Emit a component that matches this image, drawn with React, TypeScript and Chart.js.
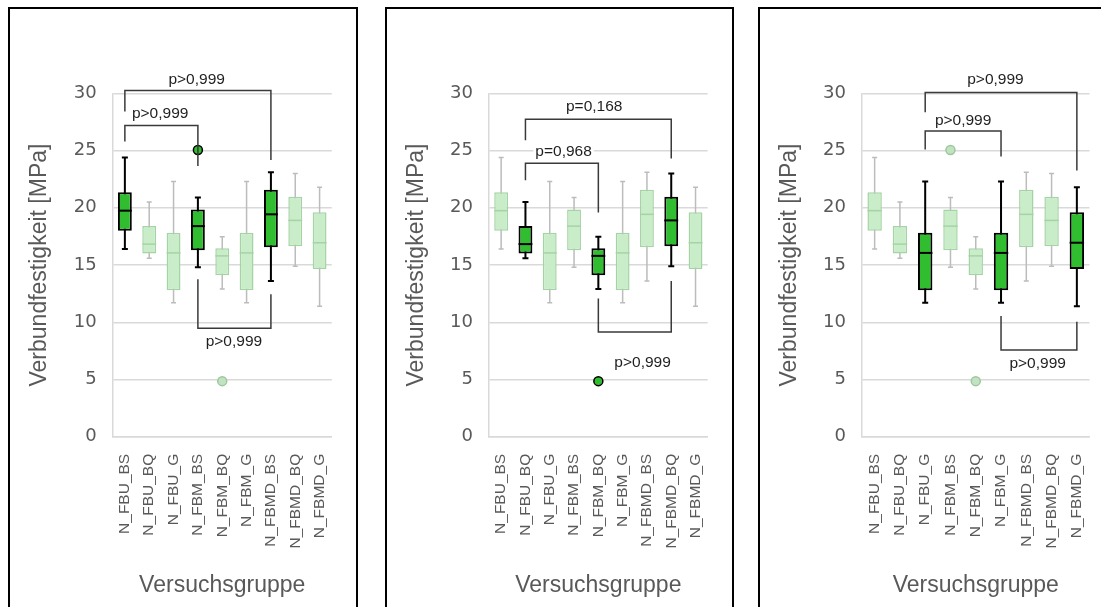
import React, { useEffect, useRef } from 'react';
import { Chart, registerables } from 'chart.js';

Chart.register(...registerables);

// ---------- data ----------
const categories = [
  'N_FBU_BS', 'N_FBU_BQ', 'N_FBU_G',
  'N_FBM_BS', 'N_FBM_BQ', 'N_FBM_G',
  'N_FBMD_BS', 'N_FBMD_BQ', 'N_FBMD_G',
];
const whiskerLow = [16.4, 15.6, 11.7, 14.8, 12.9, 11.7, 13.6, 14.9, 11.4];
const quartile1 = [18.0, 16.0, 12.8, 16.3, 14.1, 12.8, 16.55, 16.65, 14.65];
const medians = [19.75, 16.83, 16.06, 18.4, 15.8, 16.06, 19.43, 18.9, 16.95];
const quartile3 = [21.35, 18.42, 17.83, 19.85, 16.47, 17.83, 21.57, 20.96, 19.62];
const whiskerHigh = [24.4, 20.5, 22.3, 20.9, 17.48, 22.3, 23.1, 23.0, 21.8];
const outliers = [null, null, null, 25.05, 4.86, null, null, null, null];
const yTicks = [0, 5, 10, 15, 20, 25, 30];

const highlightPanel1 = [0, 3, 6];
const highlightPanel2 = [1, 4, 7];
const highlightPanel3 = [2, 5, 8];

// from/to: category index, level: bracket value, fromEnd/toEnd: leg end values,
// lx: label category position, ly: label value
const bracketsPanel1 = [
  { from: 0, to: 6, level: 30.24, fromEnd: 28.4, toEnd: 24.18, text: 'p>0,999', lx: 2.95, ly: 31.2 },
  { from: 0, to: 3, level: 27.18, fromEnd: 25.78, toEnd: 23.65, text: 'p>0,999', lx: 1.45, ly: 28.25 },
  { from: 3, to: 6, level: 9.47, fromEnd: 13.75, toEnd: 12.44, text: 'p>0,999', lx: 4.48, ly: 8.3 },
];
const bracketsPanel2 = [
  { from: 1, to: 7, level: 27.73, fromEnd: 25.9, toEnd: 24.3, text: 'p=0,168', lx: 3.83, ly: 28.8 },
  { from: 1, to: 4, level: 23.9, fromEnd: 22.4, toEnd: 19.6, text: 'p=0,968', lx: 2.57, ly: 24.9 },
  { from: 4, to: 7, level: 9.16, fromEnd: 12.07, toEnd: 13.6, text: 'p>0,999', lx: 5.82, ly: 6.43 },
];
const bracketsPanel3 = [
  { from: 2, to: 8, level: 30.06, fromEnd: 28.34, toEnd: 23.25, text: 'p>0,999', lx: 4.78, ly: 31.2 },
  { from: 2, to: 5, level: 26.7, fromEnd: 25.1, toEnd: 24.47, text: 'p>0,999', lx: 3.5, ly: 27.6 },
  { from: 5, to: 8, level: 7.57, fromEnd: 10.54, toEnd: 10.05, text: 'p>0,999', lx: 6.45, ly: 6.35 },
];

// ---------- styles / layout ----------
const FONT = "'Liberation Sans', Arial, sans-serif";
const DARK_FILL = '#30bd30';
const DARK_LINE = '#000000';
const LIGHT_FILL = '#c8edc8';
const LIGHT_BORDER = '#a6d3a6';
const LIGHT_WHISKER = '#bcbcbc';
const GRID = '#d9d9d9';
const TEXT_GRAY = '#595959';

const PANEL_TOP = 7;
const BORDER = 2;
const CANVAS_H = 598;
const PLOT_TOP = 93.3;
const PLOT_BOTTOM = 436.8;

type Bracket = {
  from: number; to: number; level: number; fromEnd: number; toEnd: number;
  text: string; lx: number; ly: number;
};

function makePlugin(highlight: number[], brackets: Bracket[]) {
  return {
    id: 'boxDecor',
    beforeDatasetsDraw(chart: any) {
      const { ctx, scales } = chart;
      const x = scales.x;
      const y = scales.y;
      categories.forEach((_, i) => {
        const dark = highlight.includes(i);
        const px = x.getPixelForValue(i);
        const cap = dark ? 3 : 2.5;
        ctx.save();
        ctx.strokeStyle = dark ? DARK_LINE : LIGHT_WHISKER;
        ctx.lineWidth = dark ? 2 : 1.5;
        ctx.beginPath();
        const yl = y.getPixelForValue(whiskerLow[i]);
        const yh = y.getPixelForValue(whiskerHigh[i]);
        ctx.moveTo(px, yl);
        ctx.lineTo(px, yh);
        ctx.moveTo(px - cap, yl);
        ctx.lineTo(px + cap, yl);
        ctx.moveTo(px - cap, yh);
        ctx.lineTo(px + cap, yh);
        ctx.stroke();
        ctx.restore();
      });
    },
    afterDatasetsDraw(chart: any) {
      const { ctx, scales } = chart;
      const x = scales.x;
      const y = scales.y;
      const meta = chart.getDatasetMeta(1);
      categories.forEach((_, i) => {
        const dark = highlight.includes(i);
        const bar = meta.data[i];
        const px = x.getPixelForValue(i);
        const half = bar ? bar.width / 2 : 7;
        const py = y.getPixelForValue(medians[i]);
        ctx.save();
        ctx.strokeStyle = dark ? DARK_LINE : LIGHT_BORDER;
        ctx.lineWidth = dark ? 2 : 1.5;
        ctx.beginPath();
        ctx.moveTo(px - half, py);
        ctx.lineTo(px + half, py);
        ctx.stroke();
        ctx.restore();
      });
    },
    afterDraw(chart: any) {
      const { ctx, scales } = chart;
      const x = scales.x;
      const y = scales.y;
      brackets.forEach((b) => {
        const x1 = x.getPixelForValue(b.from);
        const x2 = x.getPixelForValue(b.to);
        const yl = y.getPixelForValue(b.level);
        ctx.save();
        ctx.strokeStyle = '#3a3a3a';
        ctx.lineWidth = 1.5;
        ctx.beginPath();
        ctx.moveTo(x1, y.getPixelForValue(b.fromEnd));
        ctx.lineTo(x1, yl);
        ctx.lineTo(x2, yl);
        ctx.lineTo(x2, y.getPixelForValue(b.toEnd));
        ctx.stroke();
        ctx.font = `15.5px ${FONT}`;
        const tx = x.getPixelForValue(b.lx);
        const ty = y.getPixelForValue(b.ly);
        const w = ctx.measureText(b.text).width;
        ctx.fillStyle = '#ffffff';
        ctx.fillRect(tx - w / 2 - 2, ty - 9, w + 4, 18);
        ctx.fillStyle = '#1f1f1f';
        ctx.textAlign = 'center';
        ctx.textBaseline = 'middle';
        ctx.fillText(b.text, tx, ty);
        ctx.restore();
      });
    },
  };
}

type PanelProps = {
  left: number; width: number; plotLeft: number; plotRight: number;
  highlight: number[]; brackets: Bracket[];
};

function Panel({ left, width, plotLeft, plotRight, highlight, brackets }: PanelProps) {
  const ref = useRef<HTMLCanvasElement | null>(null);
  const canvasLeft = left + BORDER;
  const canvasW = width - 2 * BORDER;
  const canvasTop = PANEL_TOP + BORDER;

  useEffect(() => {
    if (!ref.current) return;
    const yAxisWidth = plotLeft - canvasLeft;
    const padRight = canvasW - (plotRight - canvasLeft);
    const padTop = PLOT_TOP - canvasTop;
    const xAxisHeight = CANVAS_H - (PLOT_BOTTOM - canvasTop);

    const isDark = (i: number) => highlight.includes(i);
    const chart = new Chart(ref.current, {
      type: 'bar',
      data: {
        labels: categories,
        datasets: [
          {
            type: 'line',
            data: outliers as any,
            showLine: false,
            pointRadius: 4.5,
            pointHoverRadius: 4.5,
            pointBorderWidth: 1.5,
            pointBackgroundColor: categories.map((_, i) => (isDark(i) ? DARK_FILL : '#c2e3c2')),
            pointBorderColor: categories.map((_, i) => (isDark(i) ? DARK_LINE : '#9fc79f')),
            order: 0,
          } as any,
          {
            type: 'bar',
            data: categories.map((_, i) => [quartile1[i], quartile3[i]]) as any,
            backgroundColor: categories.map((_, i) => (isDark(i) ? DARK_FILL : LIGHT_FILL)),
            borderColor: categories.map((_, i) => (isDark(i) ? DARK_LINE : LIGHT_BORDER)),
            borderWidth: categories.map((_, i) => (isDark(i) ? 2 : 1.5)) as any,
            borderSkipped: false,
            barPercentage: 0.57,
            categoryPercentage: 1,
            order: 1,
          } as any,
        ],
      },
      options: {
        animation: false,
        responsive: false,
        maintainAspectRatio: false,
        events: [],
        layout: { padding: { left: 0, right: padRight, top: padTop, bottom: 0 } },
        plugins: {
          legend: { display: false },
          tooltip: { enabled: false },
        },
        scales: {
          x: {
            grid: { display: false, drawTicks: false },
            border: { display: true, color: GRID, width: 1.5 },
            ticks: {
              autoSkip: false,
              minRotation: 90,
              maxRotation: 90,
              padding: 17,
              color: TEXT_GRAY,
              font: { family: FONT, size: 15.5 },
            },
            title: {
              display: true,
              text: 'Versuchsgruppe',
              color: TEXT_GRAY,
              font: { family: FONT, size: 23 },
              padding: { top: 0, bottom: 8 },
            },
            afterFit: (s: any) => { s.height = xAxisHeight; },
          },
          y: {
            min: 0,
            max: 30,
            afterBuildTicks: (s: any) => { s.ticks = yTicks.map((v) => ({ value: v })); },
            grid: { color: GRID, lineWidth: 1.5, drawTicks: false },
            border: { display: true, color: GRID, width: 1.5 },
            ticks: {
              padding: 16,
              color: TEXT_GRAY,
              font: { family: "'DejaVu Sans', sans-serif", size: 18 },
            },
            title: {
              display: true,
              text: 'Verbundfestigkeit [MPa]',
              color: TEXT_GRAY,
              font: { family: FONT, size: 23 },
              padding: { top: 16, bottom: 0 },
            },
            afterFit: (s: any) => { s.width = yAxisWidth; },
          },
        },
      } as any,
      plugins: [makePlugin(highlight, brackets)],
    });
    return () => chart.destroy();
  }, []);

  return (
    <div
      style={{
        position: 'absolute',
        left,
        top: PANEL_TOP,
        width,
        height: 620,
        border: `${BORDER}px solid #000`,
        boxSizing: 'border-box',
        background: '#fff',
      }}
    >
      <canvas
        ref={ref}
        width={canvasW}
        height={CANVAS_H}
        style={{ position: 'absolute', left: 0, top: 0, width: canvasW, height: CANVAS_H }}
      />
    </div>
  );
}

export default function App() {
  return (
    <div
      style={{
        position: 'absolute',
        left: 0,
        top: 0,
        width: 1101,
        height: 607,
        overflow: 'hidden',
        background: '#fff',
      }}
    >
      <Panel left={8} width={350} plotLeft={112.7} plotRight={341.5}
        highlight={highlightPanel1} brackets={bracketsPanel1} />
      <Panel left={385} width={349} plotLeft={489} plotRight={716.5}
        highlight={highlightPanel2} brackets={bracketsPanel2} />
      <Panel left={758} width={360} plotLeft={862} plotRight={1089.5}
        highlight={highlightPanel3} brackets={bracketsPanel3} />
    </div>
  );
}
